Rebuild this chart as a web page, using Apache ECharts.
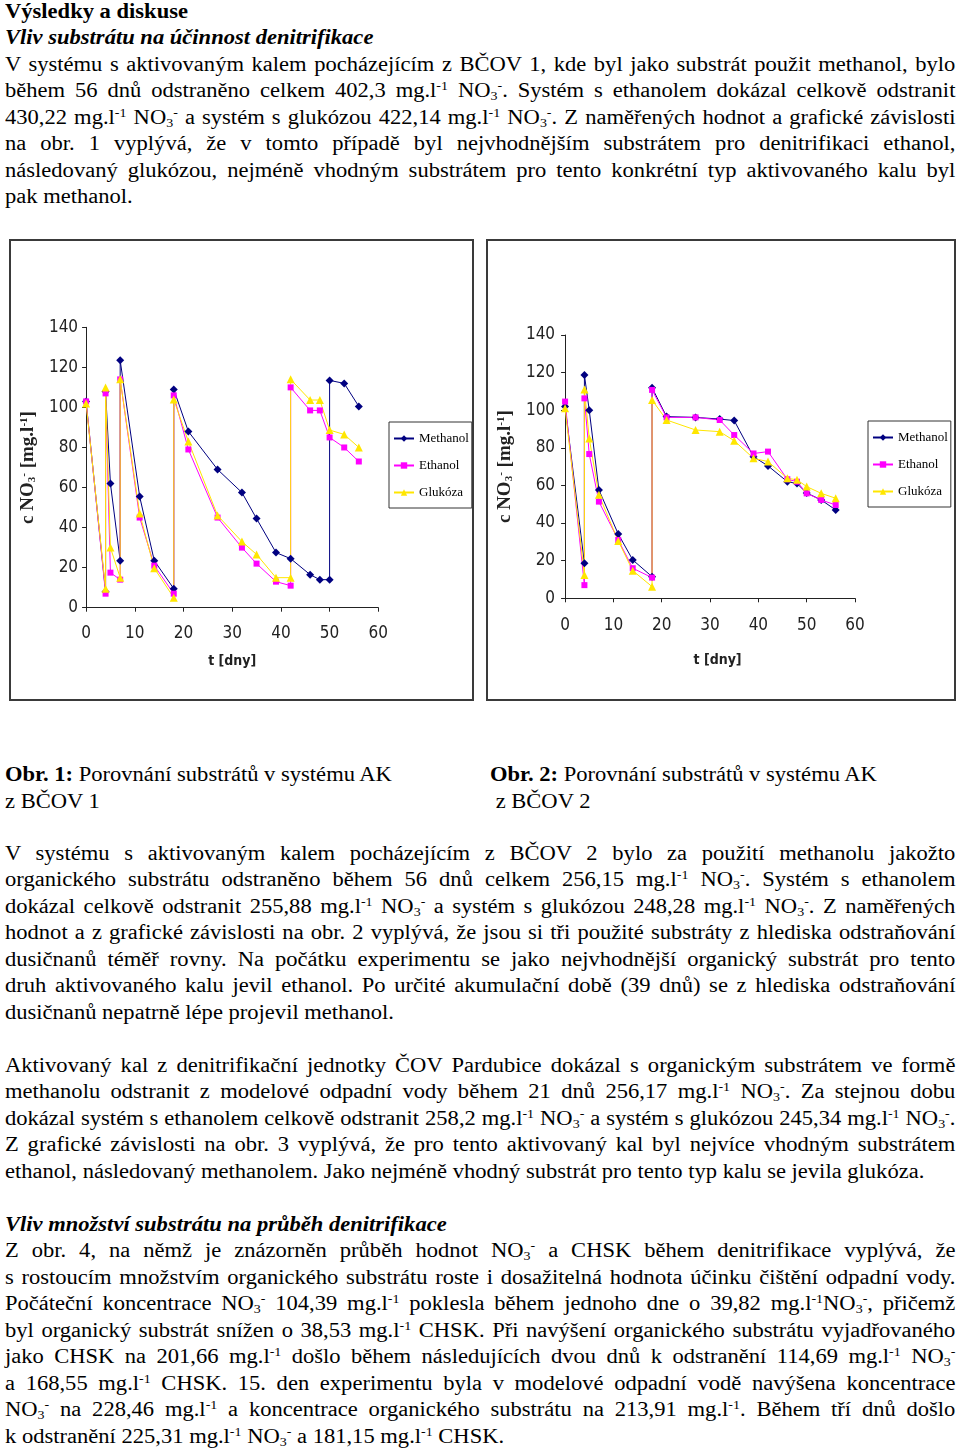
<!DOCTYPE html>
<html><head><meta charset="utf-8">
<script src="https://cdn.jsdelivr.net/npm/echarts@6/dist/echarts.min.js"></script>
<style>
html,body{margin:0;padding:0;background:#fff;}
body{width:960px;height:1452px;position:relative;overflow:hidden;}
.doc{position:absolute;left:5px;width:864px;transform:scaleX(1.1);transform-origin:0 0;font-family:'Liberation Serif','Times New Roman',serif;font-size:20.5px;line-height:26.5px;color:#000;}
.doc div{height:26.5px;white-space:nowrap;}
.doc .j{text-align:justify;text-align-last:justify;}
.doc sup{font-size:0.62em;vertical-align:0.55em;line-height:0;}
.doc sub{font-size:0.62em;vertical-align:-0.2em;line-height:0;}
.box{position:absolute;box-sizing:border-box;border:2px solid #3a3a3a;background:#fff;}
.chart{position:absolute;left:0;top:0;}
</style>
</head>
<body>
<div class="doc" style="top:-2.5px;">
<div><b>Výsledky a diskuse</b></div>
<div><b><i>Vliv substrátu na účinnost denitrifikace</i></b></div>
<div class="j">V systému s aktivovaným kalem pocházejícím z BČOV 1, kde byl jako substrát použit methanol, bylo</div>
<div class="j">během 56 dnů odstraněno celkem 402,3 mg.l<sup>-1</sup> NO<sub>3</sub><sup>-</sup>. Systém s ethanolem dokázal celkově odstranit</div>
<div class="j">430,22 mg.l<sup>-1</sup> NO<sub>3</sub><sup>-</sup> a systém s glukózou 422,14 mg.l<sup>-1</sup> NO<sub>3</sub><sup>-</sup>. Z naměřených hodnot a grafické závislosti</div>
<div class="j">na obr. 1 vyplývá, že v tomto případě byl nejvhodnějším substrátem pro denitrifikaci ethanol,</div>
<div class="j">následovaný glukózou, nejméně vhodným substrátem pro tento konkrétní typ aktivovaného kalu byl</div>
<div>pak methanol.</div>
</div>

<div class="box" id="b1" style="left:9px;top:239px;width:465px;height:462px;"><div class="chart" id="c1" style="width:461px;height:458px;"></div></div>
<div class="box" id="b2" style="left:486px;top:239px;width:470px;height:462px;"><div class="chart" id="c2" style="width:466px;height:458px;"></div></div>

<div class="doc" style="top:761px;width:400px;">
<div><b>Obr. 1:</b> Porovnání substrátů v systému AK</div>
<div>z BČOV 1</div>
</div>
<div class="doc" style="top:761px;left:490px;width:400px;">
<div><b>Obr. 2:</b> Porovnání substrátů v systému AK</div>
<div>&nbsp;z BČOV 2</div>
</div>

<div class="doc" style="top:839.5px;">
<div class="j">V systému s aktivovaným kalem pocházejícím z BČOV 2 bylo za použití methanolu jakožto</div>
<div class="j">organického substrátu odstraněno během 56 dnů celkem 256,15 mg.l<sup>-1</sup> NO<sub>3</sub><sup>-</sup>. Systém s ethanolem</div>
<div class="j">dokázal celkově odstranit 255,88 mg.l<sup>-1</sup> NO<sub>3</sub><sup>-</sup> a systém s glukózou 248,28 mg.l<sup>-1</sup> NO<sub>3</sub><sup>-</sup>. Z naměřených</div>
<div class="j">hodnot a z grafické závislosti na obr. 2 vyplývá, že jsou si tři použité substráty z hlediska odstraňování</div>
<div class="j">dusičnanů téměř rovny. Na počátku experimentu se jako nejvhodnější organický substrát pro tento</div>
<div class="j">druh aktivovaného kalu jevil ethanol. Po určité akumulační době (39 dnů) se z hlediska odstraňování</div>
<div>dusičnanů nepatrně lépe projevil methanol.</div>
<div></div>
<div class="j">Aktivovaný kal z denitrifikační jednotky ČOV Pardubice dokázal s organickým substrátem ve formě</div>
<div class="j">methanolu odstranit z modelové odpadní vody během 21 dnů 256,17 mg.l<sup>-1</sup> NO<sub>3</sub><sup>-</sup>. Za stejnou dobu</div>
<div class="j">dokázal systém s ethanolem celkově odstranit 258,2 mg.l<sup>-1</sup> NO<sub>3</sub><sup>-</sup> a systém s glukózou 245,34 mg.l<sup>-1</sup> NO<sub>3</sub><sup>-</sup>.</div>
<div class="j">Z grafické závislosti na obr. 3 vyplývá, že pro tento aktivovaný kal byl nejvíce vhodným substrátem</div>
<div>ethanol, následovaný methanolem. Jako nejméně vhodný substrát pro tento typ kalu se jevila glukóza.</div>
<div></div>
<div><b><i>Vliv množství substrátu na průběh denitrifikace</i></b></div>
<div class="j">Z obr. 4, na němž je znázorněn průběh hodnot NO<sub>3</sub><sup>-</sup> a CHSK během denitrifikace vyplývá, že</div>
<div class="j">s rostoucím množstvím organického substrátu roste i dosažitelná hodnota účinku čištění odpadní vody.</div>
<div class="j">Počáteční koncentrace NO<sub>3</sub><sup>-</sup> 104,39 mg.l<sup>-1</sup> poklesla během jednoho dne o 39,82 mg.l<sup>-1</sup>NO<sub>3</sub><sup>-</sup>, přičemž</div>
<div class="j">byl organický substrát snížen o 38,53 mg.l<sup>-1</sup> CHSK. Při navýšení organického substrátu vyjadřovaného</div>
<div class="j">jako CHSK na 201,66 mg.l<sup>-1</sup> došlo během následujících dvou dnů k odstranění 114,69 mg.l<sup>-1</sup> NO<sub>3</sub><sup>-</sup></div>
<div class="j">a 168,55 mg.l<sup>-1</sup> CHSK. 15. den experimentu byla v modelové odpadní vodě navýšena koncentrace</div>
<div class="j">NO<sub>3</sub><sup>-</sup> na 228,46 mg.l<sup>-1</sup> a koncentrace organického substrátu na 213,91 mg.l<sup>-1</sup>. Během tří dnů došlo</div>
<div>k odstranění 225,31 mg.l<sup>-1</sup> NO<sub>3</sub><sup>-</sup> a 181,15 mg.l<sup>-1</sup> CHSK.</div>
</div>

<script>
// ---- data (t [days], c NO3- [mg/l]) ----
const seriesNames = ['Methanol', 'Ethanol', 'Glukóza'];

const fig1Methanol = [[0,103],[4,8],[4,108],[5,62],[7,23.5],[7,123.5],[11,55.5],[14,23.5],[18,9.5],[18,109],[21,88],[27,69],[32,57.5],[35,44.5],[39,27.5],[42,24.5],[46,16.5],[48,14],[50,14],[50,113.5],[53,112],[56,100.5]];
const fig1Ethanol  = [[0,103],[4,7],[4,107],[5,17.5],[7,14],[7,114],[11,45],[14,21],[18,7],[18,106],[21,79],[27,45],[32,30],[35,22],[39,13],[42,11],[42,110],[46,98.5],[48,98.5],[50,85],[53,80],[56,73]];
const fig1Glukoza  = [[0,102],[4,9.5],[4,110],[5,30],[7,15],[7,114],[11,47],[14,19.7],[18,5],[18,104],[21,83],[27,46],[32,33],[35,26.6],[39,15],[42,15],[42,114],[46,103.7],[48,103.7],[50,88.7],[53,86.5],[56,80]];

const fig2Methanol = [[0,102],[4,18.6],[4,118.7],[5,100],[7,57.6],[11,34.2],[14,20.4],[18,11.5],[18,112],[21,96.6],[27,96.2],[32,95.3],[35,94.5],[39,75.3],[42,70.4],[46,62],[48,61],[50,56],[53,52.3],[56,47]];
const fig2Ethanol  = [[0,104.6],[4,7],[4,106.3],[5,76.7],[7,51.4],[11,31],[14,16],[18,11],[18,110.8],[21,96.2],[27,96.2],[32,94.8],[35,86.8],[39,77],[42,78],[46,63.3],[48,62],[50,55.8],[53,52.3],[56,49.6]];
const fig2Glukoza  = [[0,101],[4,12.4],[4,111],[5,85],[7,55],[11,30.5],[14,14.7],[18,6.2],[18,105.4],[21,94.8],[27,89.5],[32,88.6],[35,83.8],[39,74.4],[42,72.7],[46,63.8],[48,63],[50,59.4],[53,55.8],[56,53.2]];

const xAxisTitle = 't [dny]';
const yAxisTitle = '{b|c NO}{s|3}{p|-}{b| [mg.l}{p|-1}{b|]}';

// ---- styling ----
const narrow = "'Liberation Sans Narrow','DejaVu Sans Condensed','Arial Narrow',sans-serif";
const serif = "'Liberation Serif','Times New Roman',serif";
const colors = ['#000080', '#FF00FF', '#FFE600'];
const symbols = ['diamond', 'rect', 'triangle'];
const symbolSizes = [8, 6, 8];

function buildOption(cfg, dataSets) {
  return {
    animation: false,
    backgroundColor: '#fff',
    grid: { left: cfg.gl, top: cfg.gt, width: cfg.gw, height: cfg.gh, containLabel: false },
    legend: {
      data: seriesNames, orient: 'vertical', left: cfg.ll, top: cfg.lt,
      itemWidth: 20, itemHeight: 8, itemGap: 14,
      padding: [10, 3, 9, 4], borderColor: '#333', borderWidth: 1, backgroundColor: '#fff',
      textStyle: { fontFamily: serif, fontSize: 13, color: '#000' }
    },
    xAxis: {
      type: 'value', min: 0, max: 60, interval: 10,
      axisLine: { show: true, lineStyle: { color: '#222', width: 1 } },
      axisTick: { show: true, length: 4, lineStyle: { color: '#222' } },
      splitLine: { show: false },
      axisLabel: { margin: cfg.xm, fontFamily: narrow, fontSize: 17, color: '#222' },
      name: xAxisTitle, nameLocation: 'middle', nameGap: cfg.xng,
      nameTextStyle: { fontFamily: narrow, fontWeight: 'bold', fontSize: 14, color: '#222', padding: cfg.xnp }
    },
    yAxis: {
      type: 'value', min: 0, max: 140, interval: 20,
      axisLine: { show: true, lineStyle: { color: '#222', width: 1 } },
      axisTick: { show: true, length: 4, lineStyle: { color: '#222' } },
      splitLine: { show: false },
      axisLabel: { margin: cfg.ym, fontFamily: narrow, fontSize: 17, color: '#222' },
      name: yAxisTitle, nameLocation: 'middle', nameGap: cfg.yng, nameRotate: 90,
      nameTextStyle: {
        color: '#222',
        rich: {
          b: { fontFamily: serif, fontWeight: 'bold', fontSize: 19, color: '#222' },
          s: { fontFamily: serif, fontWeight: 'bold', fontSize: 11, color: '#222', verticalAlign: 'bottom' },
          p: { fontFamily: serif, fontWeight: 'bold', fontSize: 11, color: '#222', verticalAlign: 'top' }
        }
      }
    },
    series: dataSets.map((d, i) => ({
      name: seriesNames[i], type: 'line', data: d,
      symbol: symbols[i], symbolSize: symbolSizes[i], showSymbol: true,
      lineStyle: { width: 1, color: colors[i] },
      itemStyle: { color: colors[i] },
      emphasis: { disabled: true }
    }))
  };
}

const c1 = echarts.init(document.getElementById('c1'), null, { renderer: 'canvas' });
c1.setOption(buildOption({ gl: 65.7, gt: 86.3, gw: 301.6, gh: 280.4, ll: 378, lt: 181, xm: 17, xng: 47, xnp: [0,0,0,0], ym: 8, yng: 30 },
  [fig1Methanol, fig1Ethanol, fig1Glukoza]));

const c2 = echarts.init(document.getElementById('c2'), null, { renderer: 'canvas' });
c2.setOption(buildOption({ gl: 65.3, gt: 94, gw: 301.7, gh: 263.3, ll: 380, lt: 180, xm: 19, xng: 55, xnp: [0,0,0,15], ym: 10, yng: 30 },
  [fig2Methanol, fig2Ethanol, fig2Glukoza]));
</script>
</body></html>
